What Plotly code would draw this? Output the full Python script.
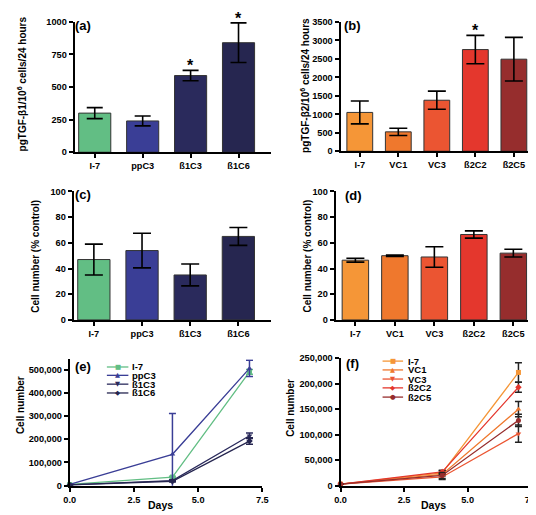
import plotly.graph_objects as go

# ---------------- data ----------------
cats_a = ["I-7", "ppC3", "ß1C3", "ß1C6"]
tgf_b1 = [300, 240, 588, 840]
tgf_b1_err = [42, 38, 40, 152]
colors_a = ["#62be84", "#3a3e96", "#2a2a5c", "#262650"]
stars_a = ["ß1C3", "ß1C6"]

cats_b = ["I-7", "VC1", "VC3", "ß2C2", "ß2C5"]
tgf_b2 = [1050, 525, 1380, 2750, 2490]
tgf_b2_err = [310, 98, 245, 385, 590]
colors_b = ["#f59637", "#ef782d", "#eb5532", "#e4372d", "#962d2d"]
stars_b = ["ß2C2"]

cell_c = [47, 54, 35, 65]
cell_c_err = [12, 13.5, 8.5, 7]

cell_d = [46.5, 50, 49, 66.5, 52]
cell_d_err = [1.5, 0.5, 8, 2.8, 3]

days = [0, 4, 7]
growth_e = {
    "I-7": [5000, 37000, 490000],
    "ppC3": [5000, 135000, 505000],
    "ß1C3": [3000, 22000, 215000],
    "ß1C6": [3000, 19000, 192000],
}
growth_e_err = {
    "I-7": [500, 3000, 10000],
    "ppC3": [500, 176000, 35000],
    "ß1C3": [500, 3000, 12000],
    "ß1C6": [500, 3000, 14000],
}
growth_f = {
    "I-7": [3000, 25000, 222000],
    "VC1": [3000, 22000, 150000],
    "VC3": [3000, 17000, 102000],
    "ß2C2": [3000, 27000, 193000],
    "ß2C5": [3000, 20000, 128000],
}
growth_f_err = {
    "I-7": [500, 4000, 19000],
    "VC1": [500, 3000, 15000],
    "VC3": [500, 5000, 17000],
    "ß2C2": [500, 3000, 10000],
    "ß2C5": [500, 6000, 12000],
}
symbols = ["square", "triangle-up", "triangle-down", "diamond", "circle"]
glyphs = ["■", "▲", "▼", "◆", "●"]

W, H = 536, 515
FONT = "Liberation Sans, Arial, sans-serif"


def px(x):
    return x / W


def py(y):
    return 1 - y / H


fig = go.Figure()

axis_common = dict(
    showline=True, linecolor="black", linewidth=2, ticks="outside", ticklen=4,
    tickwidth=2, tickcolor="black", showgrid=False, zeroline=False,
    tickfont=dict(family=FONT, size=9.2, color="black", weight="bold"),
)


def bar_panel(n, cats, vals, errs, colors, width_err):
    fig.add_trace(go.Bar(
        x=cats, y=vals, marker=dict(color=colors, line=dict(color="#333333", width=1)),
        width=0.67,
        error_y=dict(type="data", array=errs, color="black", thickness=1.6, width=width_err),
        xaxis="x" + ("" if n == 1 else str(n)), yaxis="y" + ("" if n == 1 else str(n)),
        showlegend=False,
    ))


bar_panel(1, cats_a, tgf_b1, tgf_b1_err, colors_a, 8)
bar_panel(2, cats_b, tgf_b2, tgf_b2_err, colors_b, 9)
bar_panel(3, cats_a, cell_c, cell_c_err, colors_a, 9)
bar_panel(4, cats_b, cell_d, cell_d_err, colors_b, 9)

colors_e = colors_a
colors_f = colors_b
for i, (name, vals) in enumerate(growth_e.items()):
    fig.add_trace(go.Scatter(
        x=days, y=vals, mode="lines+markers", name=name,
        line=dict(color=colors_e[i], width=1.3),
        marker=dict(symbol=symbols[i], size=5, color=colors_e[i]),
        error_y=dict(type="data", array=growth_e_err[name], color=colors_e[i], thickness=1.5, width=3.5),
        xaxis="x5", yaxis="y5", showlegend=False, cliponaxis=False,
    ))
for i, (name, vals) in enumerate(growth_f.items()):
    fig.add_trace(go.Scatter(
        x=days, y=vals, mode="lines+markers", name=name,
        line=dict(color=colors_f[i], width=1.3),
        marker=dict(symbol=symbols[i], size=5, color=colors_f[i]),
        error_y=dict(type="data", array=growth_f_err[name], color="#222222", thickness=1.5, width=3.5),
        xaxis="x6", yaxis="y6", showlegend=False, cliponaxis=False,
    ))

layout = dict(
    width=W, height=H, margin=dict(l=0, r=0, t=0, b=0),
    plot_bgcolor="white", paper_bgcolor="white", showlegend=False,
    font=dict(family=FONT, color="black"),
)

# axes domains (pixel based)
layout["xaxis"] = dict(axis_common, type="category", domain=[px(62), px(263)], range=[-0.42, 3.68], anchor="y")
layout["yaxis"] = dict(axis_common, domain=[py(142), py(9)], range=[0, 1000], dtick=250, anchor="x")
layout["xaxis2"] = dict(axis_common, type="category", domain=[px(334), px(533)], range=[-0.5, 4.55], anchor="y2")
layout["yaxis2"] = dict(axis_common, domain=[py(141), py(9)], range=[0, 3500], dtick=500, anchor="x2")
layout["xaxis3"] = dict(axis_common, type="category", domain=[px(61), px(263)], range=[-0.42, 3.68], anchor="y3")
layout["yaxis3"] = dict(axis_common, domain=[py(313), py(182)], range=[0, 100], dtick=20, anchor="x3")
layout["xaxis4"] = dict(axis_common, type="category", domain=[px(329), px(533)], range=[-0.5, 4.55], anchor="y4")
layout["yaxis4"] = dict(axis_common, domain=[py(313), py(182)], range=[0, 100], dtick=20, anchor="x4")
layout["xaxis5"] = dict(axis_common, domain=[px(57), px(254)], range=[0, 7.5], dtick=2.5, tickformat=".1f", anchor="y5")
layout["yaxis5"] = dict(axis_common, domain=[py(482), py(353)], range=[0, 545000], dtick=100000, tickformat=",d", anchor="x5")
layout["xaxis6"] = dict(axis_common, domain=[px(334), px(529)], range=[0, 7.5], dtick=2.5, tickformat=".1f", anchor="y6")
layout["yaxis6"] = dict(axis_common, domain=[py(482), py(352)], range=[0, 250000], dtick=50000, tickformat=",d", anchor="x6")
fig.update_layout(**layout)

ann = []
# panel labels
for lab, x, y in [("(a)", 71, 13), ("(b)", 346, 13), ("(c)", 71, 185), ("(d)", 347, 186), ("(e)", 71, 360), ("(f)", 346, 357)]:
    ann.append(dict(text="<b>%s</b>" % lab, x=px(x), y=py(y), xref="paper", yref="paper",
                    showarrow=False, font=dict(size=13, family=FONT), xanchor="center", yanchor="middle"))
# y titles
for t, x, y in [("pgTGF-β1/10<sup>6</sup> cells/24 hours", 8, 72), ("pgTGF-β2/10<sup>6</sup> cells/24 hours", 297, 74),
                ("Cell number (% control)", 22, 248), ("Cell number (% control)", 300, 248),
                ("Cell number", 6, 400), ("Cell number", 282, 403)]:
    ann.append(dict(text="<b>%s</b>" % t, x=px(x), y=py(y), xref="paper", yref="paper", textangle=-90,
                    showarrow=False, font=dict(size=10, family=FONT), xanchor="center", yanchor="middle"))
# x titles
for x in [150, 429]:
    ann.append(dict(text="<b>Days</b>", x=px(x), y=py(502), xref="paper", yref="paper", showarrow=False,
                    font=dict(size=10.5, family=FONT), xanchor="center", yanchor="middle"))
# significance stars
for c in stars_a:
    i = cats_a.index(c)
    ann.append(dict(text="<b>*</b>", x=c, y=tgf_b1[i] + tgf_b1_err[i], xref="x", yref="y", showarrow=False,
                    font=dict(size=16, family=FONT), yanchor="bottom", yshift=-6))
for c in stars_b:
    i = cats_b.index(c)
    ann.append(dict(text="<b>*</b>", x=c, y=tgf_b2[i] + tgf_b2_err[i], xref="x2", yref="y2", showarrow=False,
                    font=dict(size=16, family=FONT), yanchor="bottom", yshift=-6))

shapes = []


def manual_legend(names, cols, x0, x1, xt, ys):
    for i, (nm, col, y) in enumerate(zip(names, cols, ys)):
        shapes.append(dict(type="line", xref="paper", yref="paper", x0=px(x0), x1=px(x1), y0=py(y), y1=py(y),
                           line=dict(color=col, width=1.3)))
        ann.append(dict(text=glyphs[i], x=px((x0 + x1) / 2), y=py(y), xref="paper", yref="paper", showarrow=False,
                        font=dict(size=6.5, color=col, family="DejaVu Sans"), xanchor="center", yanchor="middle"))
        ann.append(dict(text="<b>%s</b>" % nm, x=px(xt), y=py(y), xref="paper", yref="paper", showarrow=False,
                        font=dict(size=9.5, family=FONT), xanchor="left", yanchor="middle"))


manual_legend(list(growth_e.keys()), colors_e, 95, 117, 119, [361, 369.5, 378.5, 387.5])
manual_legend(list(growth_f.keys()), colors_f, 377, 398, 401, [355, 364, 373.3, 382.3, 391.7])

fig.update_layout(annotations=ann, shapes=shapes)
fig.write_html("out.html")
